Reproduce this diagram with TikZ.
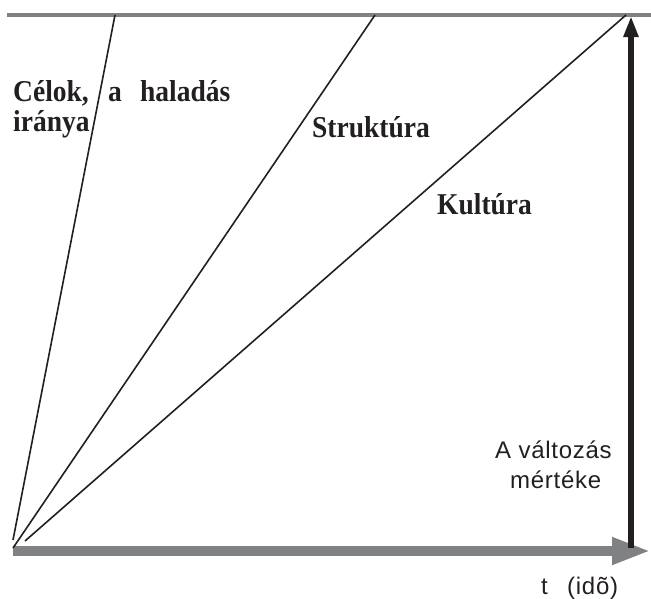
\documentclass[tikz,border=0pt]{standalone}
\usepackage{fontspec}
\setmainfont{Liberation Serif}
\newfontfamily\sansf[LetterSpace=3]{Liberation Sans}
\usetikzlibrary{arrows.meta}
\definecolor{axisgray}{HTML}{808185}
\definecolor{inkblack}{HTML}{231F20}
\newcommand{\tallbox}[1]{\scalebox{1}[1.1]{#1}}
\begin{document}
\begin{tikzpicture}[x=1pt,y=-1pt,
  serlab/.style={anchor=base west,inner sep=0pt,font=\fontsize{27.5}{30}\selectfont\bfseries,text=inkblack},
  sanslab/.style={anchor=base west,inner sep=0pt,font=\sansf\fontsize{24}{27}\selectfont,text=inkblack},
  ray/.style={draw=inkblack,line width=1.6pt}]
\useasboundingbox (0,0) rectangle (651,598);
% coordinates
\coordinate (tl) at (7,15);
\coordinate (tr) at (651,15);
\coordinate (bl) at (13,551);
\coordinate (br) at (651,551);
\coordinate (o1) at (13,540);
\coordinate (o2) at (13,548);
\coordinate (o3) at (25,541);
\coordinate (t1) at (115,15);
\coordinate (t2) at (375,15);
\coordinate (t3) at (626,15);
\coordinate (vb) at (631,548);
\coordinate (vt) at (631,16);
% top line
\draw[axisgray,line width=4.5pt] (tl) -- (tr);
% time axis
\draw[axisgray,line width=10pt,-{Triangle[length=39pt,width=25pt]}] (bl) -- (br);
% rays
\draw[ray] (o1) -- (t1);
\draw[ray] (o2) -- (t2);
\draw[ray] (o3) -- (t3);
% vertical arrow
\draw[inkblack,line width=5.5pt,-{Triangle[length=21pt,width=14pt]}] (vb) -- (vt);
% labels
\node[serlab] (c1) at (13,101) {\tallbox{Célok,}};
\node[serlab] (c2) at (108,101) {\tallbox{a}};
\node[serlab] (c3) at (140,101) {\tallbox{haladás}};
\node[serlab] (c4) at (13,131) {\tallbox{iránya}};
\node[serlab] (s) at (312,137) {\tallbox{Struktúra}};
\node[serlab] (k) at (437,214) {\tallbox{Kultúra}};
\node[sanslab] (v1) at (495,458) {A változás};
\node[sanslab] (v2) at (510,488) {mértéke};
\node[sanslab] (tt) at (541,594) {t};
\node[sanslab] (ti) at (567,594) {(idõ)};
\end{tikzpicture}
\end{document}
